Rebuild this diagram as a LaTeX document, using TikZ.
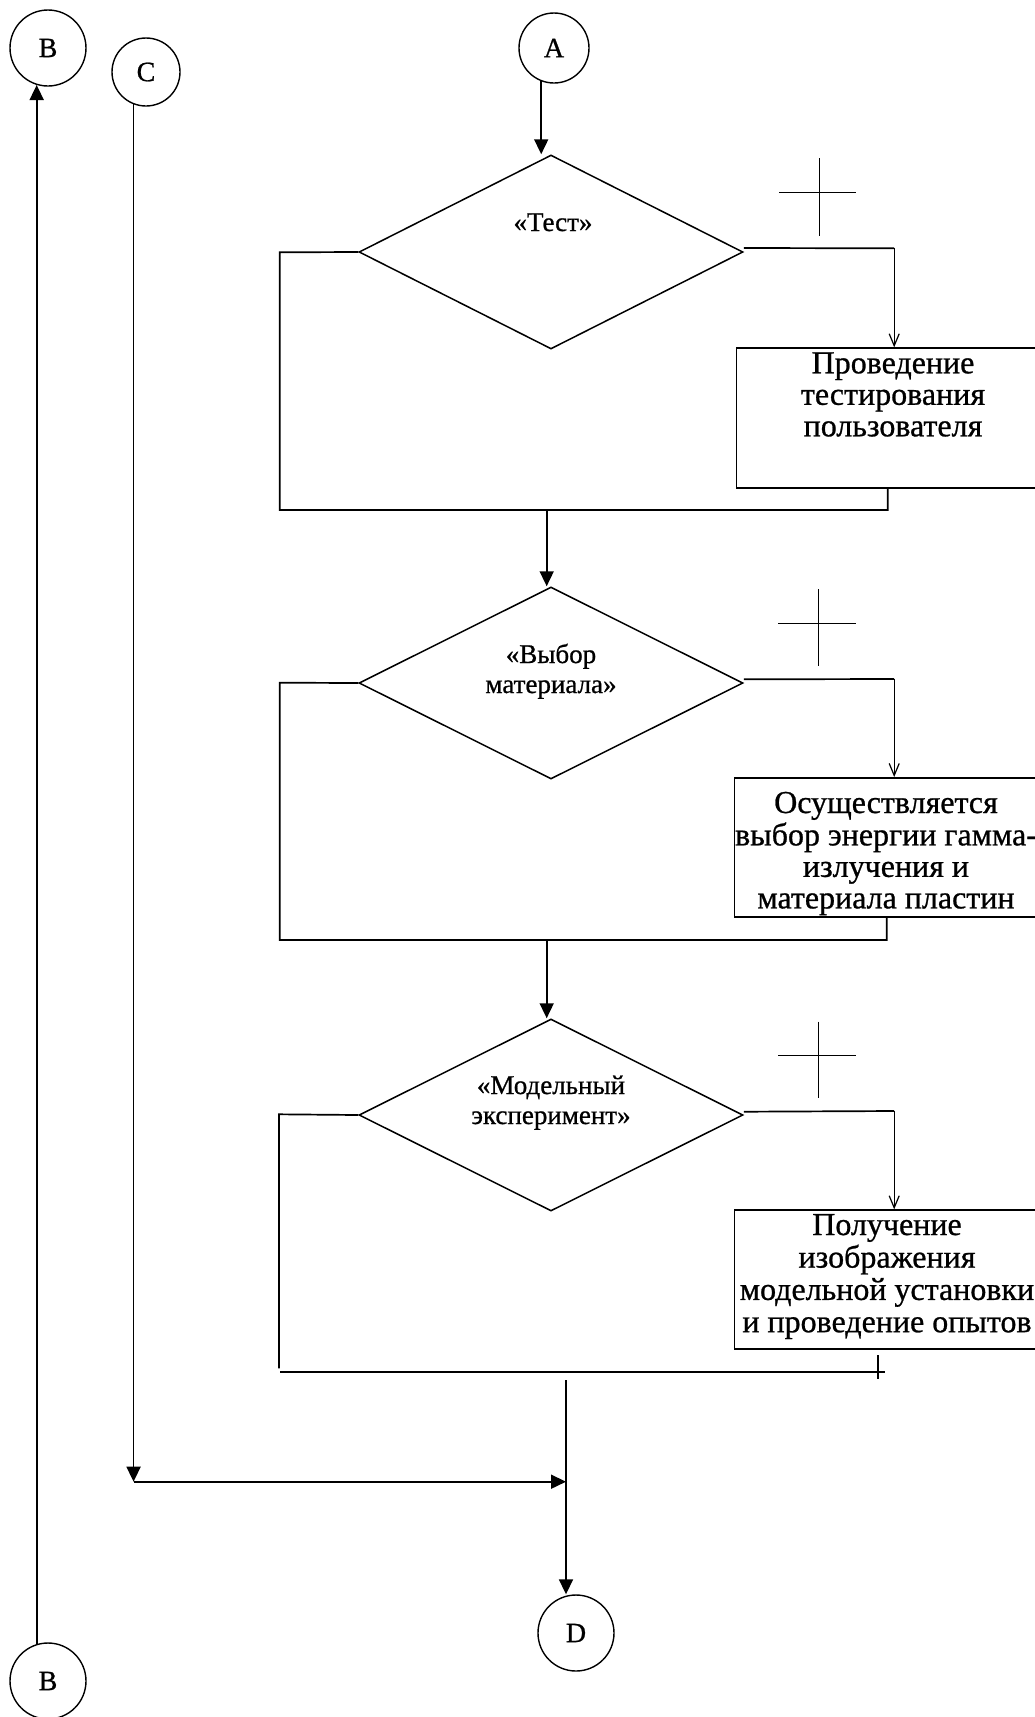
\documentclass[tikz,border=0pt]{standalone}
\usepackage{fontspec}
\setmainfont[FakeBold=0.8]{Liberation Serif}
\usetikzlibrary{arrows.meta,shapes.geometric,calc}
\begin{document}
\begin{tikzpicture}[x=1pt,y=-1pt,
  ln/.style={line width=1.7pt},
  thn/.style={line width=1.2pt},
  arr/.style={ln,-{Triangle[length=15pt,width=14pt]}},
  barb/.style={thn,-{Straight Barb[length=12pt,width=10pt]}},
  conn/.style={draw,circle,line width=1.4pt,inner sep=0pt,font=\fontsize{28}{30}\selectfont},
  dia/.style={draw,diamond,line width=1.5pt,inner sep=0pt,minimum width=384pt,minimum height=194pt},
  box/.style={draw,rectangle,line width=1.5pt,inner sep=0pt,anchor=north west,minimum width=400pt,minimum height=139pt},
  dtext/.style={anchor=base,inner sep=0pt,font=\fontsize{27}{30}\selectfont},
  btext/.style={anchor=base,inner sep=0pt,font=\fontsize{32}{31.5}\selectfont},
]
\useasboundingbox (0,0) rectangle (1035,1717);

% connectors (circles)
\node[conn,minimum size=76pt] (Btop) at (48,48) {B};
\node[conn,minimum size=68pt] (C) at (146,72) {C};
\node[conn,minimum size=70pt] (A) at (554,48) {A};
\node[conn,minimum size=76pt] (D) at (576,1633) {D};
\node[conn,minimum size=76pt] (Bbot) at (48,1681) {B};

% decisions
\node[dia] (d1) at (551,252) {};
\node[dia,minimum height=192pt] (d2) at (551,683) {};
\node[dia,minimum height=192pt] (d3) at (551,1115) {};
\node[dtext] (t1) at (553,231) {«Тест»};
\node[dtext] (t2) at (551,663) {\begin{tabular}[t]{@{}c@{}}«Выбор\\материала»\end{tabular}};
\node[dtext] (t3) at (551,1094) {\begin{tabular}[t]{@{}c@{}}«Модельный\\эксперимент»\end{tabular}};

% processes
\node[box,minimum height=140pt] (b1) at (735.5,347.3) {};
\node[box] (b2) at (733.5,777) {};
\node[box] (b3) at (733.5,1209.3) {};
\node[btext] (tb1) at (893,373.3) {\begin{tabular}[t]{@{}c@{}}Проведение\\тестирования\\пользователя\end{tabular}};
\node[btext] (tb2) at (886,813) {\begin{tabular}[t]{@{}c@{}}Осуществляется\\выбор энергии гамма-\\излучения и\\материала пластин\end{tabular}};
\node[btext,font=\fontsize{32}{32.3}\selectfont] (tb3) at (887,1235) {\begin{tabular}[t]{@{}c@{}}Получение\\изображения\\модельной установки\\и проведение опытов\end{tabular}};

% helper coordinates
\coordinate (r1) at (894.2,248.3);
\coordinate (l1) at (279.8,252.3);
\coordinate (j1) at (887.8,510);
\coordinate (m1) at (546.7,510);
\coordinate (r2) at (894.2,679);
\coordinate (l2) at (279.8,682.7);
\coordinate (j2) at (886.8,940);
\coordinate (m2) at (546.7,940);
\coordinate (r3) at (894.2,1111);
\coordinate (l3) at (279,1114.3);
\coordinate (l3b) at (279,1368.3);
\coordinate (h3a) at (280,1372);
\coordinate (h3b) at (885.3,1372);
\coordinate (k3a) at (878,1355);
\coordinate (k3b) at (878,1378.5);
\coordinate (m3) at (566,1380);
\coordinate (c1) at (134,1481.7);

% A -> first decision
\draw[arr] (A.249) -- (A.249 |- d1.north);

% block 1
\draw[ln] ([yshift=4pt]d1.east) -- (r1);
\draw[barb] (r1) -- (r1 |- b1.north);
\draw[ln] (d1.west) -- (l1) |- (j1) -- (j1 |- b1.south);
\draw[arr] (m1) -- (m1 |- d2.north);
\draw[thn] (779,192.3) -- (855.6,192.3);
\draw[thn] (819.5,158.3) -- (819.5,235.7);

% block 2
\draw[ln] ([yshift=3.7pt]d2.east) -- (r2);
\draw[barb] (r2) -- (r2 |- b2.north);
\draw[ln] (d2.west) -- (l2) |- (j2) -- (j2 |- b2.south);
\draw[arr] (m2) -- (m2 |- d3.north);
\draw[thn] (778,623.3) -- (855.6,623.3);
\draw[thn] (818.6,589.3) -- (818.6,666);

% block 3
\draw[ln] ([yshift=3.3pt]d3.east) -- (r3);
\draw[barb] (r3) -- (r3 |- b3.north);
\draw[ln] (d3.west) -- (l3) -- (l3b);
\draw[ln] (h3a) -- (h3b);
\draw[ln] (k3a) -- (k3b);
\draw[thn] (778,1055.7) -- (855.6,1055.7);
\draw[thn] (818.6,1021.7) -- (818.6,1098.3);

% exit to D
\draw[arr] (m3) -- (m3 |- D.north);

% C line
\draw[arr] (C.249) -- (C.249 |- c1);
\draw[arr] (c1) -- (m3 |- c1);

% B line
\draw[arr] (Bbot.107) -- (Btop.253);
\end{tikzpicture}
\end{document}
